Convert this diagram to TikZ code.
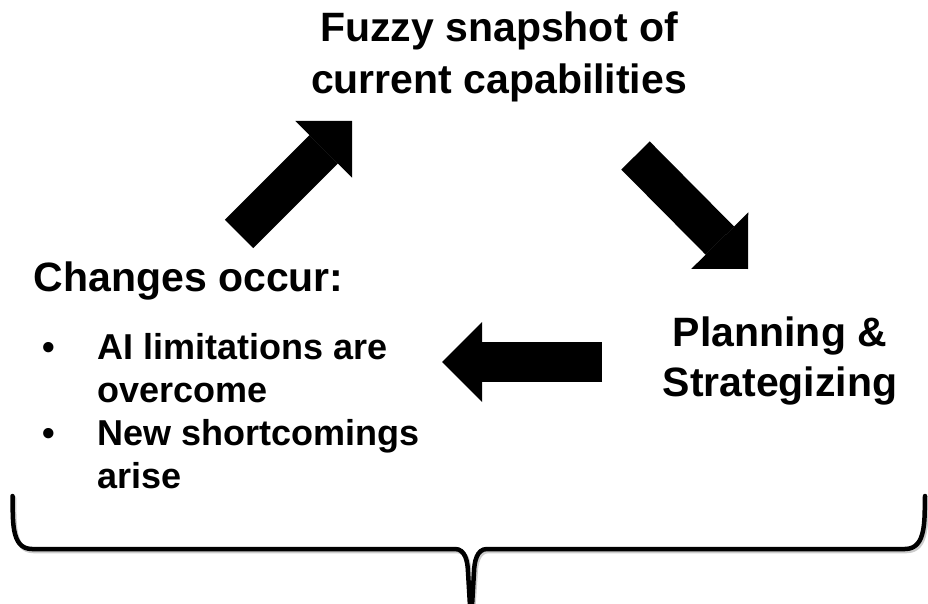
\documentclass[tikz,border=0pt]{standalone}
\usepackage{fontspec}
\setmainfont{Liberation Sans}
\usetikzlibrary{arrows.meta,positioning}

\begin{document}
\begin{tikzpicture}[x=1pt, y=-1pt,
        label/.style={inner sep=0pt, align=center},
        bigarrow/.style={line width=40pt, -{Triangle[length=40pt, width=80pt, line width=0pt]}},
        brace/.style={line width=4.5pt, line cap=round, line join=round}]

    \useasboundingbox (0,0) rectangle (928,604);

    % the three stages
    \node[label, anchor=north, font=\bfseries\fontsize{41}{52}\selectfont] (snapshot) at (499,12)
        {Fuzzy snapshot of\\current capabilities};
    \node[label, anchor=north, font=\bfseries\fontsize{41}{50}\selectfont] (planning) at (780,317)
        {Planning \&\\Strategizing};
    \node[label, anchor=north west, font=\bfseries\fontsize{41}{44}\selectfont] (changes) at (33.5,262)
        {Changes occur:};
    \node[label, align=left, anchor=north west, font=\bfseries\fontsize{36}{43}\selectfont] (changelist) at (42,333)
        {\makebox[55pt][l]{\textbullet}AI limitations are\\
         \hspace*{55pt}overcome\\
         \makebox[55pt][l]{\textbullet}New shortcomings\\
         \hspace*{55pt}arise};

    % block arrows of the cycle
    \coordinate (up-s) at (239,234);
    \coordinate (up-e) at (352,121);
    \coordinate (down-s) at (635.5,155.5);
    \coordinate (down-e) at (748,269);
    \coordinate (back-s) at (602,362);
    \coordinate (back-e) at (442,362);
    \draw[bigarrow] (up-s) -- (up-e);
    \draw[bigarrow] (down-s) -- (down-e);
    \draw[bigarrow] (back-s) -- (back-e);

    % brace under everything
    \begin{scope}[shift={(1.5,2)}, black!20]
        \draw[brace] (12.5,496) to[out=-88,in=180] (32,549) -- (455,549)
            to[out=0,in=92] (468,572) -- (470,603);
        \draw[brace] (925,496) to[out=-92,in=0] (905,549) -- (487,549)
            to[out=180,in=88] (474,572) -- (472,603);
    \end{scope}
    \draw[brace] (12.5,496) to[out=-88,in=180] (32,549) -- (455,549)
        to[out=0,in=92] (468,572) -- (470,606);
    \draw[brace] (925,496) to[out=-92,in=0] (905,549) -- (487,549)
        to[out=180,in=88] (474,572) -- (472,606);
\end{tikzpicture}
\end{document}
